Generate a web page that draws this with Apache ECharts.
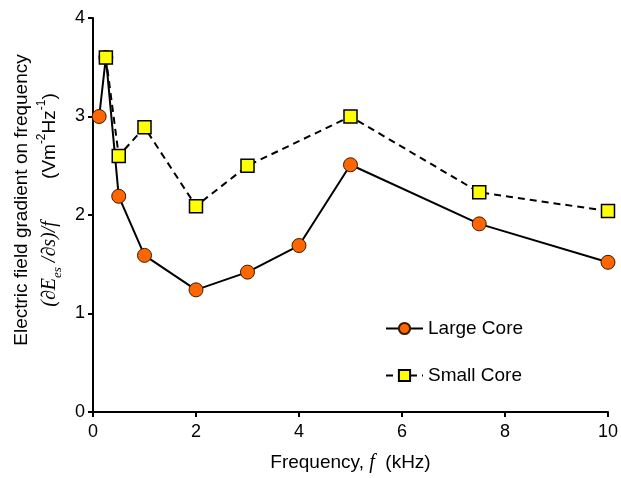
<!DOCTYPE html>
<html>
<head>
<meta charset="utf-8">
<script src="https://cdn.jsdelivr.net/npm/echarts@6/dist/echarts.min.js"></script>
<style>
  html, body { margin: 0; padding: 0; background: #fff; }
  #chart { width: 621px; height: 478px; }
</style>
</head>
<body>
<div id="chart"></div>
<script>
const largeX = [0.12, 0.25, 0.5, 1, 2, 3, 4, 5, 7.5, 10];
const largeY = [3.0, 3.6, 2.19, 1.59, 1.24, 1.42, 1.69, 2.51, 1.91, 1.52];
const smallX = [0.25, 0.5, 1, 2, 3, 5, 7.5, 10];
const smallY = [3.6, 2.6, 2.89, 2.09, 2.5, 3.0, 2.23, 2.04];

const font = 'Liberation Sans, Arial, sans-serif';
const serif = 'Liberation Serif, Times New Roman, serif';

const chart = echarts.init(document.getElementById('chart'));

const pair = (xs, ys) => xs.map((x, i) => [x, ys[i]]);

chart.setOption({
  animation: false,
  grid: { left: 93, right: 13, top: 18, bottom: 65 },
  xAxis: {
    type: 'value', min: 0, max: 10, interval: 2,
    name: '{t|Frequency, }{i|f}{t|  (kHz)}',
    nameLocation: 'middle', nameGap: 41,
    nameTextStyle: {
      rich: {
        t: { fontFamily: font, fontSize: 19, color: '#000' },
        i: { fontFamily: serif, fontStyle: 'italic', fontSize: 20, color: '#000' }
      }
    },
    axisLine: { lineStyle: { color: '#000', width: 2 } },
    axisTick: { show: true, inside: false, length: 5, lineStyle: { color: '#000', width: 2 } },
    axisLabel: { fontFamily: font, fontSize: 18, color: '#000', margin: 11 },
    splitLine: { show: false }
  },
  yAxis: {
    type: 'value', min: 0, max: 4, interval: 1,
    name: '{t|Electric field gradient on frequency}\n{i|(∂E}{s|es}{i| /∂s)/f}{t|        (Vm}{p|-2}{t|Hz}{p|-1}{t|)}',
    nameLocation: 'middle', nameGap: 28,
    nameTextStyle: {
      padding: [0, 0, 0, 30],
      rich: {
        t: { fontFamily: font, fontSize: 19, color: '#000', lineHeight: 28 },
        i: { fontFamily: serif, fontStyle: 'italic', fontSize: 20, color: '#000', lineHeight: 28 },
        s: { fontFamily: serif, fontStyle: 'italic', fontSize: 13, color: '#000', lineHeight: 28, verticalAlign: 'bottom' },
        p: { fontFamily: font, fontSize: 12, color: '#000', lineHeight: 28, verticalAlign: 'top' }
      }
    },
    axisLine: { show: true, lineStyle: { color: '#000', width: 2 } },
    axisTick: { show: true, inside: false, length: 5, lineStyle: { color: '#000', width: 2 } },
    axisLabel: { fontFamily: font, fontSize: 18, color: '#000', margin: 8 },
    splitLine: { show: false }
  },
  legend: {
    orient: 'vertical', left: 380, top: 314, itemGap: 28,
    itemWidth: 37, itemHeight: 14,
    textStyle: { fontFamily: font, fontSize: 19, color: '#000' },
    data: ['Large Core', 'Small Core']
  },
  series: [
    {
      name: 'Large Core', type: 'line', data: pair(largeX, largeY),
      symbol: 'circle', symbolSize: 14,
      itemStyle: { color: '#FF6600', borderColor: '#3a1a00', borderWidth: 1 },
      lineStyle: { color: '#000', width: 2 },
      z: 2
    },
    {
      name: 'Small Core', type: 'line', data: pair(smallX, smallY),
      symbol: 'rect', symbolSize: 13,
      itemStyle: { color: '#FFFF00', borderColor: '#000', borderWidth: 1.5 },
      lineStyle: { color: '#000', width: 2, type: [7, 5] },
      z: 3
    }
  ]
});
</script>
</body>
</html>
